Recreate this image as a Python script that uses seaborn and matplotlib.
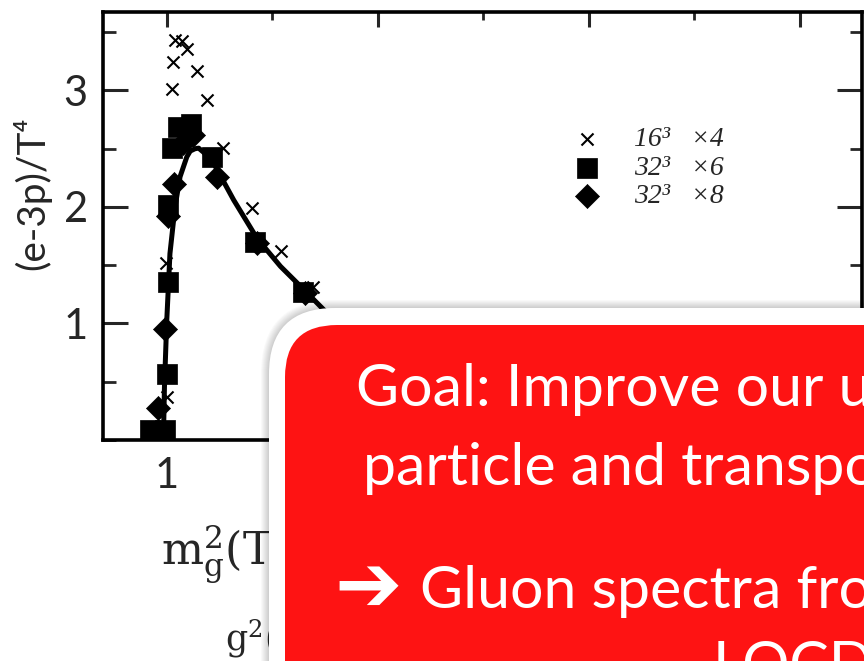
import numpy as np
import pandas as pd
import matplotlib
matplotlib.use("Agg")
import matplotlib.pyplot as plt
import seaborn as sns
from matplotlib.patches import FancyBboxPatch
from matplotlib.transforms import IdentityTransform
from matplotlib.ticker import MultipleLocator

# ---------------- data ----------------
x_16x4 = [1.038, 1.070, 1.093, 1.028, 1.142, 1.024, 1.190, 1.264, 1.403, 1.539, 0.994, 0.999, 1.692]
y_16x4 = [3.433, 3.425, 3.356, 3.245, 3.170, 3.013, 2.918, 2.509, 1.991, 1.625, 1.519, 0.372, 1.313]

x_32x6 = [1.052, 1.114, 1.022, 1.212, 1.006, 1.417, 1.006, 1.645, 0.999, 0.919, 0.991]
y_32x6 = [2.69, 2.71, 2.51, 2.43, 2.02, 1.70, 1.36, 1.27, 0.567, 0.086, 0.086]

x_32x8 = [1.125, 1.077, 1.033, 1.236, 1.006, 1.425, 0.991, 1.654, 0.959]
y_32x8 = [2.62, 2.55, 2.20, 2.26, 1.92, 1.69, 0.95, 1.26, 0.272]

curve_x = [0.983, 0.988, 0.999, 1.014, 1.038, 1.062, 1.094, 1.110, 1.133, 1.150, 1.173,
           1.221, 1.316, 1.427, 1.538, 1.649, 1.744, 1.82]
curve_y = [0.00, 0.46, 1.03, 1.60, 2.00, 2.26, 2.43, 2.48, 2.50, 2.505, 2.47,
           2.375, 2.06, 1.73, 1.49, 1.29, 1.116, 0.97]

series_labels = ["16³   ×4", "32³   ×6", "32³   ×8"]
yticks = [1, 2, 3]
ytick_labels = ["1", "2", "3"]
xticks = [1, 2, 3, 4]
xtick_labels = ["1", "", "", ""]
ylabel = "(e-3p)/T⁴"
box_lines = ["Goal: Improve our u",
             "particle and transpo",
             "Gluon spectra fro",
             "LQCD"]

# ---------------- figure ----------------
sns.set_style("ticks")
plt.rcParams["font.family"] = ["Lato", "DejaVu Sans"]
plt.rcParams["mathtext.fontset"] = "dejavuserif"

W, H = 864, 661
fig = plt.figure(figsize=(W / 100, H / 100), dpi=100)
ax = fig.add_axes([103 / W, 1 - 440 / H, (862 - 103) / W, (440 - 11.7) / H])

sns.lineplot(x=curve_x, y=curve_y, ax=ax, color="black", lw=3.6, sort=True, zorder=2)
sns.scatterplot(x=x_16x4, y=y_16x4, ax=ax, marker="x", s=75, color="black",
                linewidth=1.5, zorder=3, label=series_labels[0])
sns.scatterplot(x=x_32x6, y=y_32x6, ax=ax, marker="s", s=200, color="black",
                edgecolor="black", linewidth=0.5, zorder=3, label=series_labels[1])
sns.scatterplot(x=x_32x8, y=y_32x8, ax=ax, marker="D", s=150, color="black",
                edgecolor="black", linewidth=0.5, zorder=3, label=series_labels[2])

ax.set_xlim(0.6967, 4.294)
ax.set_ylim(0, 3.676)
ax.set_xticks(xticks)
ax.set_xticklabels(xtick_labels)
ax.xaxis.set_minor_locator(MultipleLocator(0.5))
ax.set_yticks(yticks)
ax.set_yticklabels(ytick_labels)
ax.yaxis.set_minor_locator(MultipleLocator(0.5))
ax.tick_params(axis="y", which="major", direction="in", length=18, width=2.2,
               labelsize=30, pad=11, left=True, right=True)
ax.tick_params(axis="y", which="minor", direction="in", length=9, width=2.0,
               left=True, right=True)
ax.tick_params(axis="x", which="major", direction="in", length=11, width=2.2,
               labelsize=30, pad=12, top=True, bottom=True)
ax.tick_params(axis="x", which="minor", direction="in", length=6, width=2.0,
               top=True, bottom=True)
for sp in ax.spines.values():
    sp.set_linewidth(2.6)
    sp.set_color("black")
ax.set_xlabel("")
ax.set_ylabel(ylabel, fontsize=28)
ax.yaxis.set_label_coords(-0.068, 0.577)

leg = ax.legend(loc="upper left", bbox_to_anchor=(551 / W, 1 - 113 / H),
                bbox_transform=fig.transFigure, frameon=False, borderpad=0,
                handlelength=1.6, handletextpad=0.89, labelspacing=0.11,
                prop={"family": "Liberation Serif", "style": "italic", "size": 20})

# ---------------- slide text partially hidden ----------------
def fy(y):
    return H - y

fig.text(161, fy(566), r"$\mathrm{m}_{\mathrm{g}}^{2}$(T", transform=IdentityTransform(),
         fontsize=32, family="DejaVu Serif", va="baseline", ha="left", zorder=2)
fig.text(225, fy(651), r"$\mathrm{g}^{2}$(", transform=IdentityTransform(),
         fontsize=25, family="DejaVu Serif", va="baseline", ha="left", zorder=2)

# ---------------- red overlay box ----------------
for i in range(8, 0, -1):
    fig.patches.append(FancyBboxPatch((269 - i, fy(308) - 600), 900, 600 + i,
                       boxstyle=f"round,pad=0,rounding_size={66 + i}",
                       transform=IdentityTransform(), facecolor="black",
                       edgecolor="none", alpha=0.025, zorder=9))
fig.patches.append(FancyBboxPatch((269, fy(308) - 600), 900, 600,
                   boxstyle="round,pad=0,rounding_size=66",
                   transform=IdentityTransform(), facecolor="white",
                   edgecolor="none", zorder=10))
fig.patches.append(FancyBboxPatch((285, fy(325) - 600), 900, 600,
                   boxstyle="round,pad=0,rounding_size=52",
                   transform=IdentityTransform(), facecolor="#FE1313",
                   edgecolor="none", zorder=11))

tkw = dict(transform=IdentityTransform(), color="white", va="baseline", ha="left",
           zorder=12, fontsize=42.5, family=["Lato", "DejaVu Sans"])
fig.text(356, fy(406), box_lines[0], **tkw)
fig.text(363, fy(485), box_lines[1], **tkw)
fig.text(334, fy(611), "➔", **{**tkw, "family": ["DejaVu Sans"], "fontsize": 58,
                              "fontweight": "bold"})
fig.text(420, fy(608), box_lines[2], **tkw)
fig.text(713, fy(683), box_lines[3], **tkw)

fig.savefig("out.png", dpi=100)
